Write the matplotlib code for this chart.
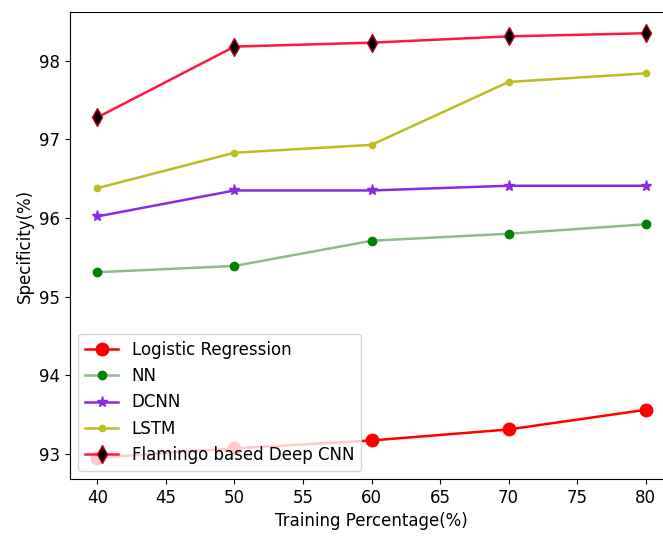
import numpy as np
import matplotlib
matplotlib.use("Agg")
import matplotlib.pyplot as plt

#%% Data
training_pct    = [40, 50, 60, 70, 80]
logistic_reg    = [92.95, 93.07, 93.17, 93.31, 93.56]
nn_vals         = [95.31, 95.39, 95.71, 95.80, 95.92]
dcnn_vals       = [96.02, 96.35, 96.35, 96.41, 96.41]
lstm_vals       = [96.38, 96.83, 96.93, 97.73, 97.84]
flamingo_vals   = [97.28, 98.18, 98.23, 98.31, 98.35]

#### Figure
fig = plt.figure(figsize=(6.63, 5.36), dpi=100)
ax  = fig.add_axes([70/663, 57/536, 603/663, 467/536])

ax.plot(training_pct, logistic_reg, color='red', marker='o', markersize=9,
        linewidth=1.8, label='Logistic Regression')
ax.plot(training_pct, nn_vals, color='darkseagreen', marker='o', markersize=6,
        markerfacecolor='green', markeredgecolor='green', linewidth=1.8, label='NN')
ax.plot(training_pct, dcnn_vals, color='blueviolet', marker='*', markersize=8,
        linewidth=1.8, label='DCNN')
ax.plot(training_pct, lstm_vals, color='#bcbd22', marker='o', markersize=4.5,
        linewidth=1.8, label='LSTM')
ax.plot(training_pct, flamingo_vals, color='#ff1744', marker='d', markersize=9,
        markerfacecolor='black', markeredgecolor='#c00020', linewidth=1.8,
        label='Flamingo based Deep CNN')

#### Options
ax.set_xticks([40, 45, 50, 55, 60, 65, 70, 75, 80])
ax.set_yticks([93, 94, 95, 96, 97, 98])
ax.tick_params(labelsize=12)
ax.set_xlabel('Training Percentage(%)', fontsize=12)
ax.set_ylabel('Specificity(%)', fontsize=12)
ax.legend(loc='lower left', fontsize=12)

fig.savefig('out.png', dpi=100)
